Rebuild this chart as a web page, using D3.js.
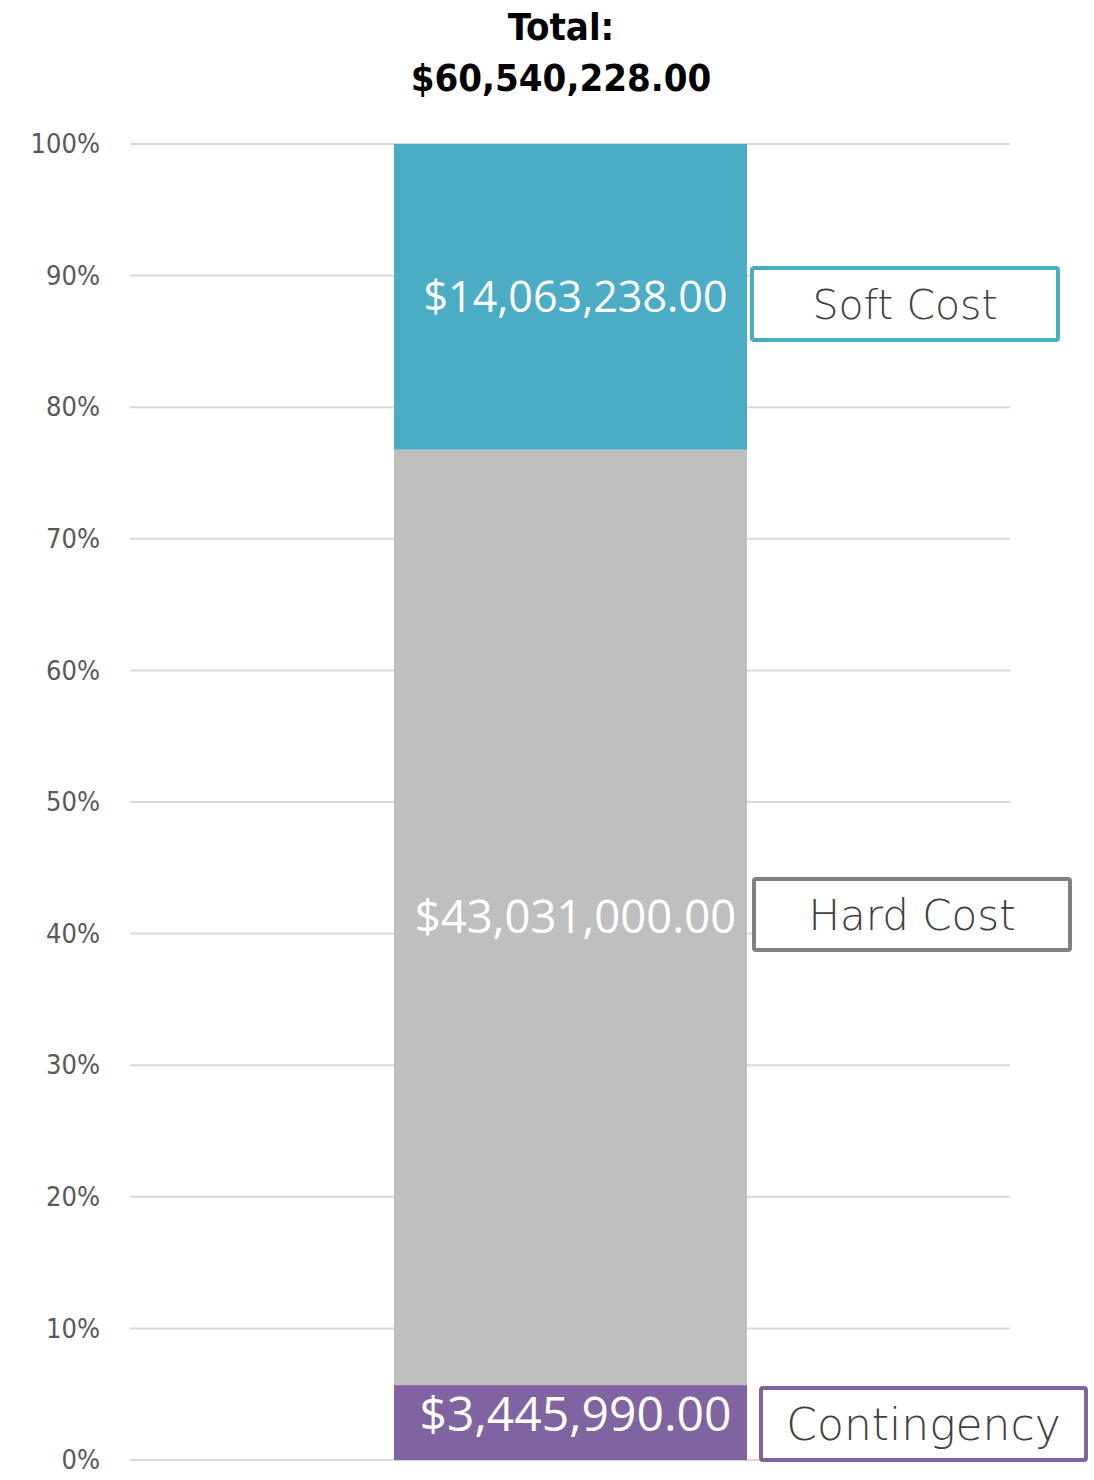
<!DOCTYPE html>
<html>
<head>
<meta charset="utf-8">
<script src="https://cdn.jsdelivr.net/npm/d3@7"></script>
<style>
  body { margin: 0; background: #fff; }
</style>
</head>
<body>
<script>
// data
var segments = ["Contingency", "Hard Cost", "Soft Cost"];
var amounts = [3445990, 43031000, 14063238];
var colors = ["#8064A2", "#BFBFBF", "#4BACC6"];
var boxStroke = ["#8064A2", "#808080", "#4BACC6"];
var tickValues = [0, 0.1, 0.2, 0.3, 0.4, 0.5, 0.6, 0.7, 0.8, 0.9, 1];

var width = 1094, height = 1480;
var svg = d3.select("body").append("svg")
    .attr("width", width)
    .attr("height", height);

var total = d3.sum(amounts);
var fmt = d3.format("$,.2f");

// stacked fractions
var stack = [];
var acc = 0;
amounts.forEach(function(v, i) {
  stack.push({ name: segments[i], value: v, y0: acc / total, y1: (acc + v) / total, i: i });
  acc += v;
});

var y = d3.scaleLinear().domain([0, 1]).range([1460, 144]);
// single bar from ~394 to ~747
var x = d3.scaleBand().domain(["Total"]).range([394, 747]);

// gridlines
svg.append("g").selectAll("line")
  .data(tickValues)
  .enter().append("line")
    .attr("x1", 130).attr("x2", 1010)
    .attr("y1", d => y(d)).attr("y2", d => y(d))
    .attr("stroke", "#D9D9D9")
    .attr("stroke-width", 2);

// y axis labels
var yAxis = d3.axisLeft(y).tickValues(tickValues).tickFormat(d3.format(".0%")).tickSize(0).tickPadding(0);
var ag = svg.append("g")
  .attr("transform", "translate(100,0)")
  .call(yAxis);
ag.select(".domain").remove();
ag.selectAll("text")
  .attr("fill", "#595959")
  .style("font-family", "'Liberation Sans Narrow', 'DejaVu Sans Condensed', sans-serif")
  .style("font-size", "27px");

// bars
svg.selectAll(".seg")
  .data(stack)
  .enter().append("rect")
    .attr("x", x("Total"))
    .attr("width", x.bandwidth())
    .attr("y", d => y(d.y1))
    .attr("height", d => y(d.y0) - y(d.y1))
    .attr("fill", d => colors[d.i]);

// value labels (sizes differ a little in the original)
var valSize = [48, 45.5, 43];
svg.selectAll(".val")
  .data(stack)
  .enter().append("text")
    .attr("x", x("Total") + x.bandwidth() / 2 + 5)
    .attr("y", d => d.i == 0 ? (y(d.y0) + y(d.y1)) / 2 - 8 : (y(d.y0) + y(d.y1)) / 2)
    .attr("dy", "0.35em")
    .attr("text-anchor", "middle")
    .attr("fill", "#fff")
    .style("font-family", "'Open Sans', sans-serif")
    .style("font-size", d => valSize[d.i] + "px")
    .text(d => fmt(d.value));

// name boxes beside the bar
var boxes = [
  { x: 761, y: 1388, w: 325, h: 72, fs: 44 },
  { x: 754, y: 879, w: 316, h: 71, fs: 42 },
  { x: 752, y: 268, w: 306, h: 72, fs: 41 }
];
stack.forEach(function(d) {
  var b = boxes[d.i];
  svg.append("rect")
    .attr("x", b.x).attr("y", b.y)
    .attr("width", b.w).attr("height", b.h)
    .attr("fill", "#fff")
    .attr("stroke", boxStroke[d.i])
    .attr("stroke-width", 4)
    .attr("rx", 2);
  svg.append("text")
    .attr("x", b.x + b.w / 2)
    .attr("y", b.y + b.h / 2)
    .attr("dy", "0.36em")
    .attr("text-anchor", "middle")
    .attr("fill", "#404040")
    .style("font-family", "'DejaVu Sans', sans-serif")
    .style("font-weight", "200")
    .style("font-size", b.fs + "px")
    .text(d.name);
});

// title
var title = svg.append("text")
  .attr("text-anchor", "middle")
  .attr("fill", "#000")
  .style("font-family", "'DejaVu Sans Condensed', 'Liberation Sans Narrow', sans-serif")
  .style("font-weight", "bold")
  .style("font-size", "38px");
title.append("tspan").attr("x", 561).attr("y", 40).text("Total:");
title.append("tspan").attr("x", 561).attr("y", 91).text(fmt(total));
</script>
</body>
</html>
